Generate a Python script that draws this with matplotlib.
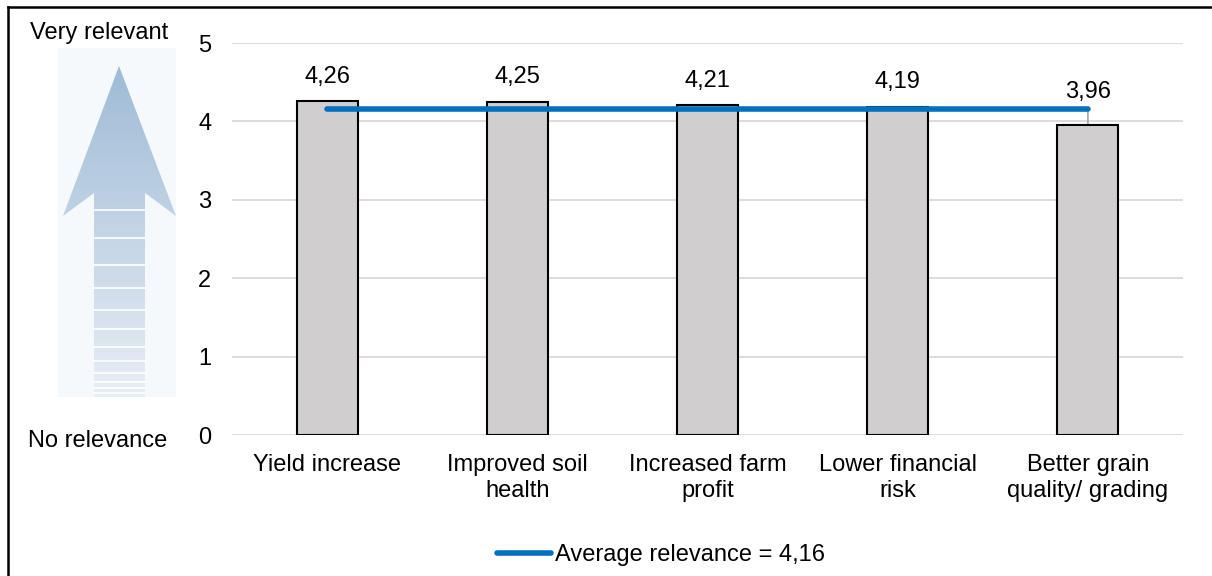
import numpy as np
import matplotlib
matplotlib.use("Agg")
import matplotlib.pyplot as plt
from matplotlib.patches import Polygon, Rectangle
from matplotlib.lines import Line2D

plt.rcParams['font.family'] = ['Liberation Sans', 'DejaVu Sans']

# ---- data ----
categories = ["Yield increase", "Improved soil\nhealth", "Increased farm\nprofit",
              "Lower financial\nrisk", "Better grain\nquality/ grading"]
values = [4.26, 4.25, 4.21, 4.19, 3.96]
value_labels = ["4,26", "4,25", "4,21", "4,19", "3,96"]
average = 4.16
average_label = "Average relevance = 4,16"
y_ticks = [0, 1, 2, 3, 4, 5]

FS = 17
W, H = 1212, 576
fig = plt.figure(figsize=(W / 100, H / 100), dpi=100)

# overlay axes in pixel coordinates for the decorative arrow and frame
ov = fig.add_axes([0, 0, 1, 1], zorder=0)
ov.set_xlim(0, W)
ov.set_ylim(H, 0)
ov.axis("off")

# frame edges (top and left)
ov.plot([7.5, W], [6.5, 6.5], color="black", lw=1.8, solid_capstyle="projecting")
ov.plot([7.5, 7.5], [6.5, H], color="black", lw=1.8, solid_capstyle="projecting")

# arrow background panel
ov.add_patch(Rectangle((58, 48), 118, 349, fc="#f6f9fc", ec="none"))

# arrow shape with vertical gradient
arrow_pts = [(119, 66), (176, 216), (145, 193), (145, 397), (94, 397),
             (94, 193), (63, 216)]
arrow = Polygon(arrow_pts, closed=True, fc="none", ec="none")
ov.add_patch(arrow)
top_c = np.array([0x9f, 0xbb, 0xd6]) / 255
bot_c = np.array([0xe8, 0xee, 0xf5]) / 255
t = np.linspace(0, 1, 256)[:, None]
grad = (top_c[None, :] * (1 - t) + bot_c[None, :] * t)[:, None, :]
im = ov.imshow(grad, extent=(58, 176, 397, 66), aspect="auto", zorder=1,
               interpolation="bilinear")
im.set_clip_path(arrow)

# white stripes in the shaft
for ys in [210, 238, 265, 288, 310, 329, 347, 361, 373, 382, 388, 393]:
    ov.plot([94, 145], [ys, ys], color="white", lw=1.2, zorder=2)

ov.text(99, 33, "Very relevant", fontsize=FS, ha="center", va="center")
ov.text(98, 441, "No relevance", fontsize=FS, ha="center", va="center")

# ---- main chart ----
ax = fig.add_axes([232 / W, 1 - 435 / H, 951 / W, 392 / H], zorder=1)
ax.patch.set_alpha(0)
x = np.arange(len(categories))
ax.bar(x, values, width=0.32, color="#d0cece", edgecolor="black", linewidth=1.5,
       zorder=2)
ax.plot([x[0], x[-1]], [average, average], color="#0070c0", lw=4,
        solid_capstyle="round", zorder=3, label=average_label)

for i, (v, lab) in enumerate(zip(values, value_labels)):
    if v < average:
        ax.annotate(lab, xy=(x[i], v), xytext=(0, 23.4), textcoords="offset points",
                    ha="center", va="center", fontsize=FS, zorder=4)
        ax.annotate("", xy=(x[i], v), xytext=(x[i], average),
                    arrowprops=dict(arrowstyle="-", color="#a6a6a6", lw=1.2,
                                    shrinkA=0, shrinkB=0), zorder=1)
    else:
        ax.annotate(lab, xy=(x[i], v), xytext=(0, 17.5), textcoords="offset points",
                    ha="center", va="center", fontsize=FS, zorder=4)

ax.set_xlim(-0.5, len(categories) - 0.5)
ax.set_ylim(0, 5)
ax.set_yticks(y_ticks)
ax.set_xticks(x)
ax.set_xticklabels(categories, fontsize=FS, linespacing=1.2)
ax.tick_params(axis="y", length=0, pad=15, labelsize=FS)
ax.tick_params(axis="x", length=0, pad=14)
ax.grid(axis="y", color="#d9d9d9", lw=1.3, zorder=0)
ax.set_axisbelow(True)
for s in ax.spines.values():
    s.set_visible(False)

leg = fig.legend(handles=[Line2D([], [], color="#0070c0", lw=4, solid_capstyle="round")],
                 labels=[average_label], loc="center left",
                 bbox_to_anchor=(497 / W, 1 - 555 / H), frameon=False,
                 fontsize=FS, handlelength=2.3, handletextpad=0.15,
                 borderpad=0, borderaxespad=0)

fig.savefig("out.png", dpi=100)
